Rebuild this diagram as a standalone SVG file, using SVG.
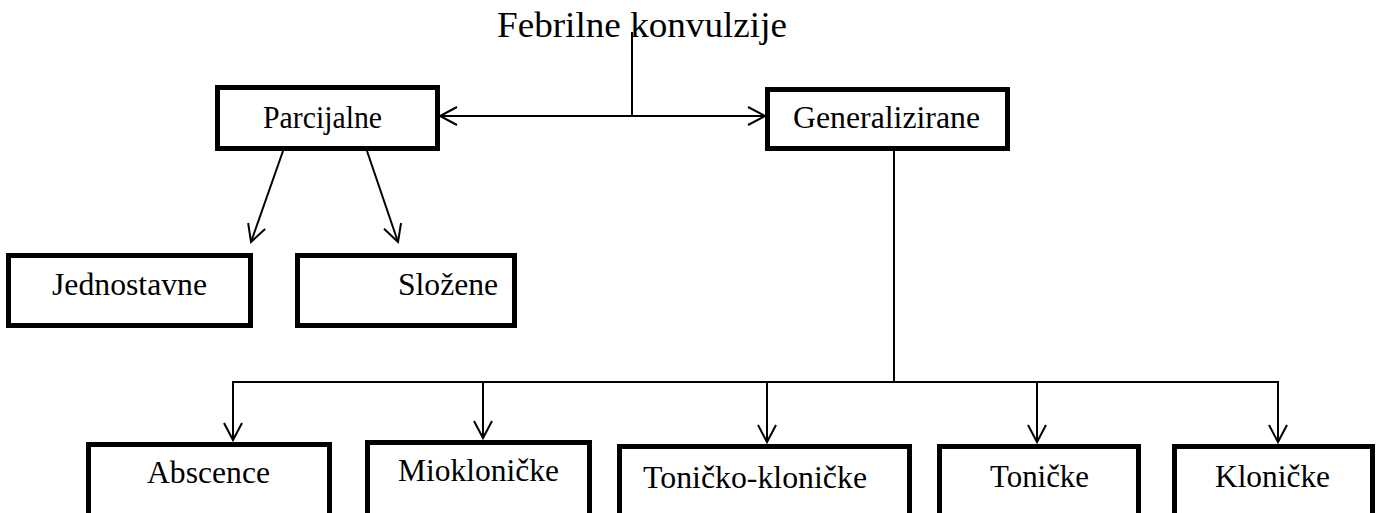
<svg xmlns="http://www.w3.org/2000/svg" width="1379" height="513" viewBox="0 0 1379 513">
<defs>
<marker id="arr" markerUnits="userSpaceOnUse" markerWidth="22" markerHeight="22" refX="19" refY="11" orient="auto-start-reverse">
<path d="M2,2 L19,11 L2,20" fill="none" stroke="#000" stroke-width="2"/>
</marker>
<style>
.box{fill:#fff;stroke:#000;stroke-width:5}
.lbl{font-family:"Liberation Serif","Times New Roman",serif;font-size:32px;fill:#000;text-anchor:middle}
.ttl{font-family:"Liberation Serif","Times New Roman",serif;font-size:35px;fill:#000}
.c{fill:none;stroke:#000;stroke-width:2}
</style>
</defs>
<rect width="1379" height="513" fill="#fff"/>
<g id="title"><text class="ttl" x="497" y="37" textLength="290" lengthAdjust="spacingAndGlyphs">Febrilne konvulzije</text></g>
<g id="connectors">
<line class="c" x1="632" y1="32" x2="632" y2="116"/>
<line class="c" x1="440" y1="116" x2="765" y2="116" marker-start="url(#arr)" marker-end="url(#arr)"/>
<line class="c" x1="283" y1="151" x2="251" y2="242" marker-end="url(#arr)"/>
<line class="c" x1="367" y1="151" x2="398" y2="242" marker-end="url(#arr)"/>
<line class="c" x1="894" y1="151" x2="894" y2="382"/>
<line class="c" x1="233" y1="382" x2="1278" y2="382"/>
<line class="c" x1="233" y1="381" x2="233" y2="440" marker-end="url(#arr)"/>
<line class="c" x1="483" y1="381" x2="483" y2="438" marker-end="url(#arr)"/>
<line class="c" x1="767" y1="381" x2="767" y2="442" marker-end="url(#arr)"/>
<line class="c" x1="1037" y1="381" x2="1037" y2="442" marker-end="url(#arr)"/>
<line class="c" x1="1278" y1="381" x2="1278" y2="442" marker-end="url(#arr)"/>
</g>
<g id="parcijalne"><rect class="box" x="217.5" y="87.5" width="220" height="61"/><text class="lbl" x="322.5" y="128" textLength="119" lengthAdjust="spacingAndGlyphs">Parcijalne</text></g>
<g id="generalizirane"><rect class="box" x="767.5" y="89.5" width="240" height="59"/><text class="lbl" x="886.5" y="128" textLength="187" lengthAdjust="spacingAndGlyphs">Generalizirane</text></g>
<g id="jednostavne"><rect class="box" x="8.5" y="255.5" width="242" height="70"/><text class="lbl" x="129.5" y="295" textLength="155" lengthAdjust="spacingAndGlyphs">Jednostavne</text></g>
<g id="slozene"><rect class="box" x="297.5" y="255.5" width="217" height="70"/><text class="lbl" x="448" y="295" textLength="100" lengthAdjust="spacingAndGlyphs">Složene</text></g>
<g id="abscence"><rect class="box" x="88.5" y="444.5" width="241" height="80"/><text class="lbl" x="208.5" y="483" textLength="123" lengthAdjust="spacingAndGlyphs">Abscence</text></g>
<g id="mioklonicke"><rect class="box" x="367.5" y="442.5" width="222" height="80"/><text class="lbl" x="478.5" y="481" textLength="161" lengthAdjust="spacingAndGlyphs">Miokloničke</text></g>
<g id="tonicko-klonicke"><rect class="box" x="619.5" y="446.5" width="290" height="80"/><text class="lbl" x="755" y="488" textLength="224" lengthAdjust="spacingAndGlyphs">Toničko-kloničke</text></g>
<g id="tonicke"><rect class="box" x="939.5" y="446.5" width="199" height="80"/><text class="lbl" x="1039.5" y="487" textLength="99" lengthAdjust="spacingAndGlyphs">Toničke</text></g>
<g id="klonicke"><rect class="box" x="1174.5" y="446.5" width="198" height="80"/><text class="lbl" x="1272.5" y="487" textLength="115" lengthAdjust="spacingAndGlyphs">Kloničke</text></g>
</svg>
